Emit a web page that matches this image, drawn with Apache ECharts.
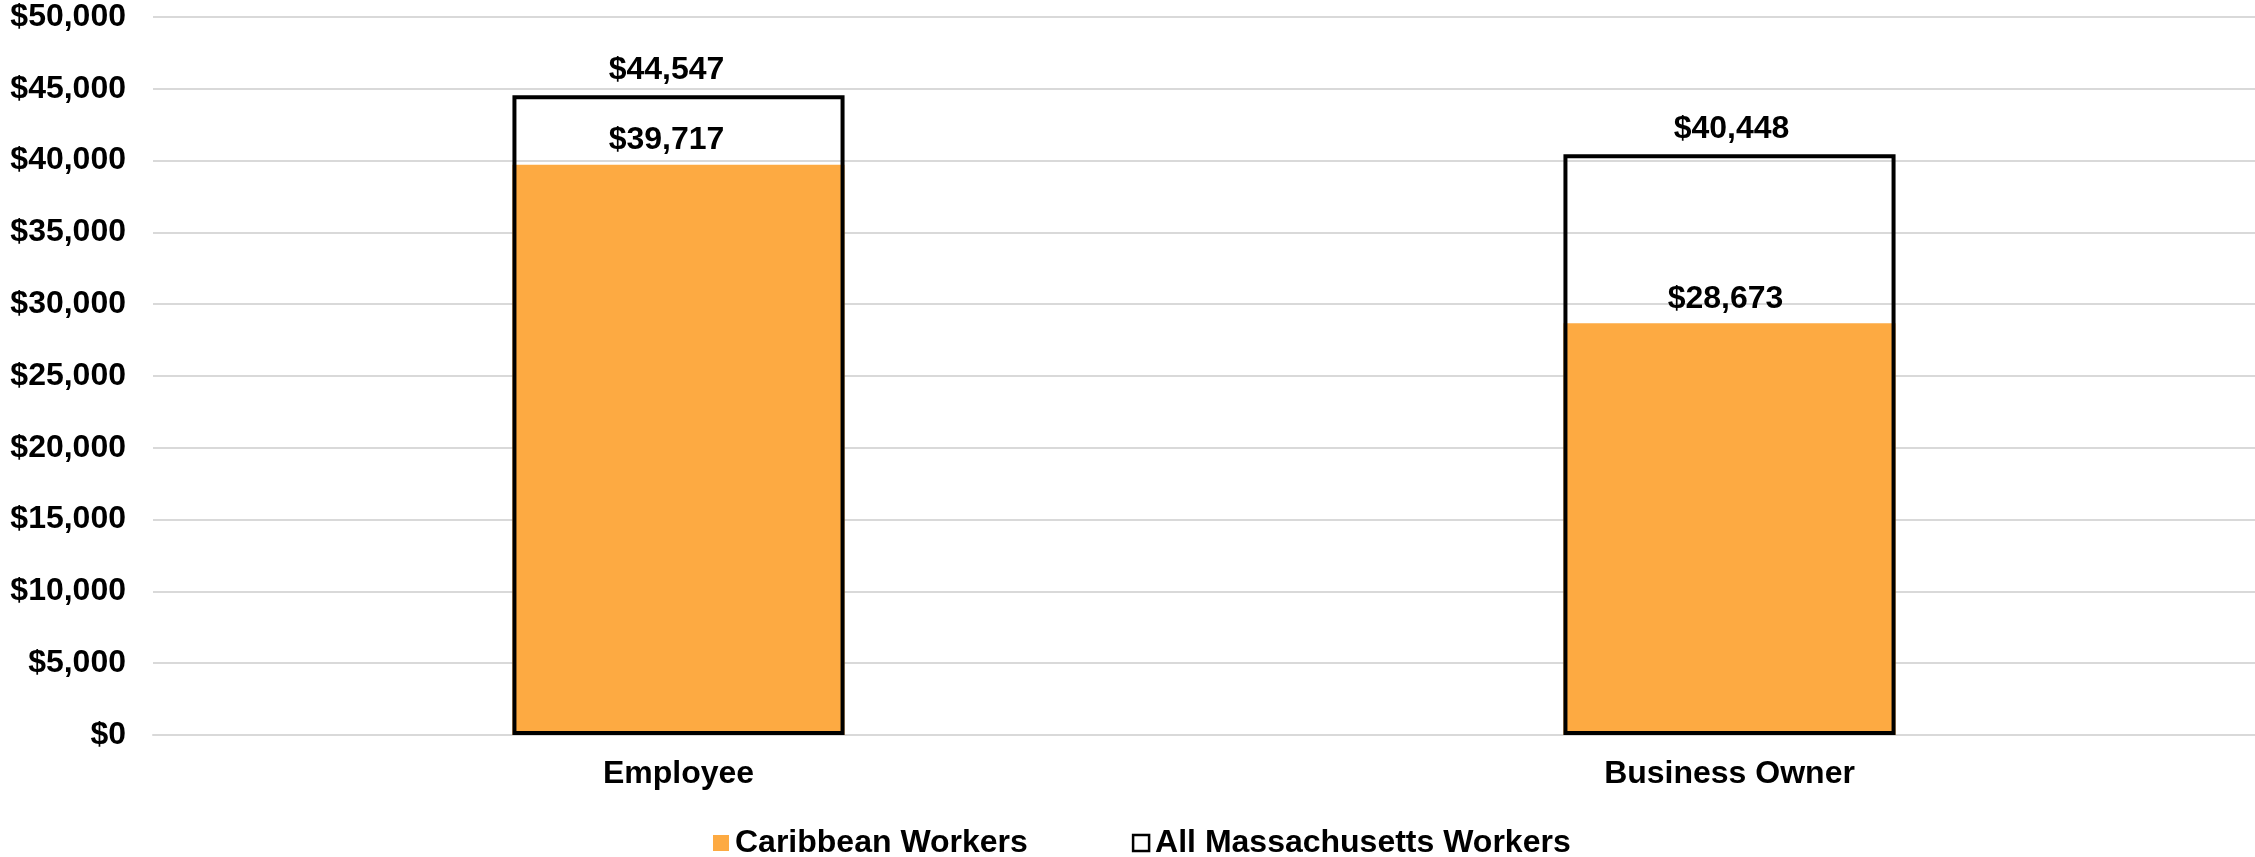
<!DOCTYPE html>
<html>
<head>
<meta charset="utf-8">
<script src="https://cdn.jsdelivr.net/npm/echarts@6/dist/echarts.min.js"></script>
<style>
  html, body { margin: 0; padding: 0; background: #fff; }
  #chart { width: 2255px; height: 857px; }
</style>
</head>
<body>
<div id="chart"></div>
<script>
// data
const categories = ['Employee', 'Business Owner'];
const caribbean = [39717, 28673];
const allMA = [44547, 40448];
const yTicks = { min: 0, max: 50000, interval: 5000 };

// small nudges so the value labels sit where the original puts them
const caribbeanLabelShift = [-12, -4];
const allMALabelShift = [-12, 2];

const FONT = '"Liberation Sans", Arial, sans-serif';
const money = v => '$' + Math.round(v).toLocaleString('en-US');
const boldText = { fontFamily: FONT, fontSize: 32, fontWeight: 'bold', color: '#000' };

const chart = echarts.init(document.getElementById('chart'));

chart.setOption({
  animation: false,
  textStyle: { fontFamily: FONT },
  grid: { left: 153, right: 0, top: 17, bottom: 122, containLabel: false },
  legend: {
    left: 708,
    top: 822,
    itemWidth: 16,
    itemHeight: 16,
    itemGap: 104,
    textStyle: Object.assign({}, boldText, { padding: [0, 0, 0, 1] }),
    data: [
      { name: 'Caribbean Workers', icon: 'rect', itemStyle: { color: '#FDAA42' } },
      { name: 'All Massachusetts Workers', icon: 'rect', itemStyle: { color: '#fff', borderColor: '#000', borderWidth: 2.5 } }
    ]
  },
  xAxis: {
    type: 'category',
    data: categories,
    axisLine: { lineStyle: { color: '#d9d9d9', width: 2 } },
    axisTick: { show: false },
    axisLabel: Object.assign({}, boldText, { margin: 23 })
  },
  yAxis: {
    type: 'value',
    min: yTicks.min,
    max: yTicks.max,
    interval: yTicks.interval,
    axisLine: { show: false },
    axisTick: { show: false },
    splitLine: { lineStyle: { color: '#d9d9d9', width: 2 } },
    axisLabel: Object.assign({}, boldText, { margin: 27, formatter: v => money(v) })
  },
  series: [
    {
      name: 'Caribbean Workers',
      type: 'bar',
      data: caribbean.map((v, i) => ({ value: v, label: { offset: [caribbeanLabelShift[i], 0] } })),
      barWidth: '31.6%',
      barGap: '-100%',
      z: 2,
      itemStyle: { color: '#FDAA42' },
      label: Object.assign({ show: true, position: 'top', distance: 8, formatter: p => money(p.value) }, boldText)
    },
    {
      name: 'All Massachusetts Workers',
      type: 'bar',
      data: allMA.map((v, i) => ({ value: v, label: { offset: [allMALabelShift[i], 0] } })),
      barWidth: '31.6%',
      z: 3,
      itemStyle: { color: 'rgba(255,255,255,0)', borderColor: '#000', borderWidth: 4 },
      label: Object.assign({ show: true, position: 'top', distance: 9, formatter: p => money(p.value) }, boldText)
    }
  ]
});
</script>
</body>
</html>
